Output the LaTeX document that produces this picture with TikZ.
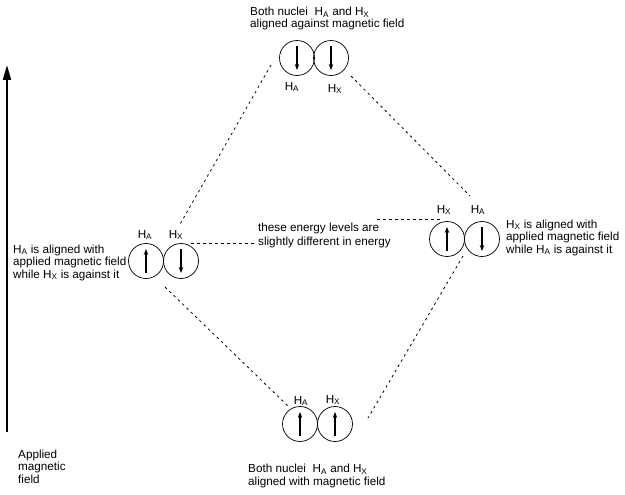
\documentclass[tikz,border=0pt]{standalone}
\usepackage{fontspec}
\setmainfont{Liberation Sans}
\usetikzlibrary{arrows.meta}
\begin{document}
\begin{tikzpicture}[x=1pt,y=-1pt,
  nuc/.style={draw,circle,minimum size=35pt,inner sep=0pt,line width=0.7pt},
  spin/.style={line width=1.1pt,-{Stealth[length=6pt,width=4.5pt]}},
  txt/.style={font=\fontsize{11.7}{12.5}\selectfont,align=left,inner sep=0pt,anchor=west},
  lbl/.style={font=\fontsize{11.7}{12.5}\selectfont,inner sep=0pt},
  dsh/.style={line width=0.8pt,dash pattern=on 2.5pt off 3.5pt}]
\useasboundingbox (0,0) rectangle (625,495);
% field arrow
\coordinate (fb) at (7,432);
\coordinate (ft) at (7,65);
\draw[line width=2.2pt,-{Triangle[length=15pt,width=8pt]}] (fb) -- (ft);
\node[txt] (applied) at (18,466.5) {Applied\\magnetic\\field};
% top pair
\node[nuc] (ta) at (297,58) {};
\node[nuc] (tx) at (331,58) {};
\draw[spin] (ta) ++(0,-12) -- ++(0,24);
\draw[spin] (tx) ++(0,-12) -- ++(0,24);
\node[lbl] (tal) at (292,87) {H\textsubscript{A}};
\node[lbl] (txl) at (335,89) {H\textsubscript{X}};
\node[txt] (ttext) at (250,18.5) {Both nuclei\ \ H\textsubscript{A} and H\textsubscript{X}\\aligned against magnetic field};
% left pair
\node[nuc] (la) at (146,261) {};
\node[nuc] (lx) at (181,261) {};
\draw[spin] (la) ++(0,12) -- ++(0,-24);
\draw[spin] (lx) ++(0,-12) -- ++(0,24);
\node[lbl] (lal) at (145,235) {H\textsubscript{A}};
\node[lbl] (lxl) at (176,235) {H\textsubscript{X}};
\node[txt] (ltext) at (13,262.5) {H\textsubscript{A} is aligned with\\applied magnetic field\\while H\textsubscript{X} is against it};
% right pair
\node[nuc] (rx) at (447,239) {};
\node[nuc] (ra) at (482,239) {};
\draw[spin] (rx) ++(0,12) -- ++(0,-24);
\draw[spin] (ra) ++(0,-12) -- ++(0,24);
\node[lbl] (rxl) at (444,210) {H\textsubscript{X}};
\node[lbl] (ral) at (478,210) {H\textsubscript{A}};
\node[txt] (rtext) at (506,237.5) {H\textsubscript{X} is aligned with\\applied magnetic field\\while H\textsubscript{A} is against it};
% bottom pair
\node[nuc] (ba) at (300,424) {};
\node[nuc] (bx) at (335,424) {};
\draw[spin] (ba) ++(0,12) -- ++(0,-24);
\draw[spin] (bx) ++(0,12) -- ++(0,-24);
\node[lbl] (bal) at (301,401) {H\textsubscript{A}};
\node[lbl] (bxl) at (333,400) {H\textsubscript{X}};
\node[txt] (btext) at (248,476) {Both nuclei\ \ H\textsubscript{A} and H\textsubscript{X}\\aligned with magnetic field};
% middle text
\node[txt,font=\fontsize{11.7}{13.5}\selectfont] (mtext) at (258,235.5) {these energy levels are\\slightly different in energy};
% dashed connectors
\coordinate (d1a) at (271,65);
\coordinate (d1b) at (179,226);
\coordinate (d2a) at (351,76);
\coordinate (d2b) at (470,196);
\coordinate (d3a) at (165,287);
\coordinate (d3b) at (288,406);
\coordinate (d4a) at (463,256);
\coordinate (d4b) at (368,418);
\draw[dsh] (d1a) -- (d1b);
\draw[dsh] (d2a) -- (d2b);
\draw[dsh] (d3a) -- (d3b);
\draw[dsh] (d4a) -- (d4b);
\coordinate (m1a) at (191,243);
\coordinate (m1b) at (254,243);
\draw[dsh] (m1a) -- (m1b);
\coordinate (m2a) at (377,219);
\coordinate (m2b) at (440,219);
\draw[dsh] (m2a) -- (m2b);
\end{tikzpicture}
\end{document}
